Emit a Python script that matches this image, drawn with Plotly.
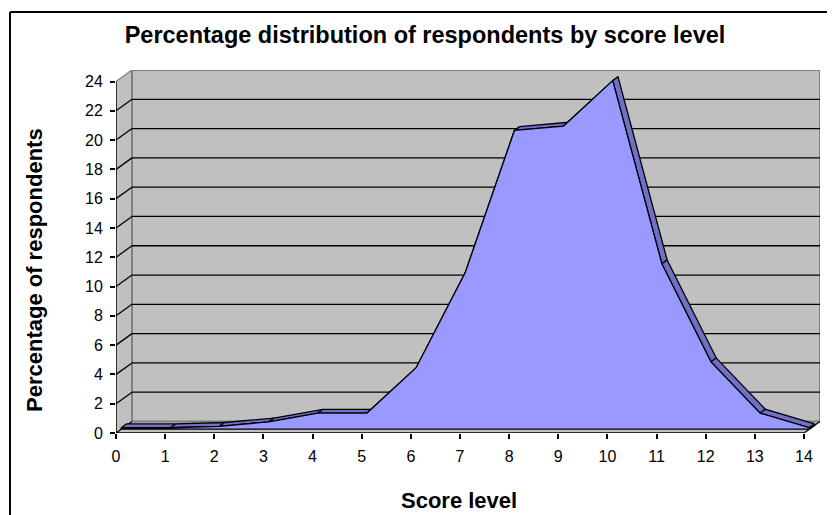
import plotly.graph_objects as go

# ---- data ----
score_levels = list(range(15))
percent_respondents = [0.1, 0.1, 0.2, 0.5, 1.1, 1.1, 4.2, 10.7, 20.4, 20.7, 23.8, 11.3, 4.6, 1.1, 0.1]
y_tick_values = list(range(0, 25, 2))
x_tick_values = list(range(0, 15))

title_text = "Percentage distribution of respondents by score level"
x_title = "Score level"
y_title = "Percentage of respondents"

# ---- geometry / style ----
PAGE_W, PAGE_H = 835, 515
OFF = 8  # default page body margin
W, H = PAGE_W - OFF, PAGE_H - OFF
ML, MR, MT, MB = 116 - OFF, 15, 70 - OFF, 82
PW, PH = W - ML - MR, H - MT - MB
DEPTH_PX_X, DEPTH_PX_Y = 16.0, 11.5
XMAX, YMAX = 14, 24
sx = (PW - DEPTH_PX_X) / XMAX
sy = (PH - DEPTH_PX_Y) / YMAX
DX = DEPTH_PX_X / sx
DY = DEPTH_PX_Y / sy
F1, F2 = 0.33, 0.66

WALL = "#C0C0C0"
WALL_EDGE = "#808080"
FRONT = "#9999FF"
TOP = "#7070C8"
FONT = "Arial, Liberation Sans, sans-serif"

def px(xp):
    """page pixel x -> paper x"""
    return (xp - OFF - ML) / PW

def py(yp):
    """page pixel y -> paper y"""
    return (H - MB - (yp - OFF)) / PH

fig = go.Figure()

shapes = []
# side wall
shapes.append(dict(type="path", xref="x", yref="y", layer="below",
                   path=f"M 0 0 L 0 {YMAX} L {DX} {YMAX+DY} L {DX} {DY} Z",
                   fillcolor=WALL, line=dict(width=0)))
# floor
shapes.append(dict(type="path", xref="x", yref="y", layer="below",
                   path=f"M 0 0 L {XMAX} 0 L {XMAX+DX} {DY} L {DX} {DY} Z",
                   fillcolor=WALL, line=dict(width=0)))
# back wall
shapes.append(dict(type="rect", xref="x", yref="y", layer="below",
                   x0=DX, x1=XMAX + DX, y0=DY, y1=YMAX + DY,
                   fillcolor=WALL, line=dict(color=WALL_EDGE, width=2)))
# gridlines on back wall + side wall diagonals
for v in y_tick_values:
    if 0 < v < YMAX:
        shapes.append(dict(type="line", xref="x", yref="y", layer="below",
                           x0=DX, x1=XMAX + DX, y0=v + DY, y1=v + DY,
                           line=dict(color="black", width=1.3)))
    shapes.append(dict(type="line", xref="x", yref="y", layer="below",
                       x0=0, x1=DX, y0=v, y1=v + DY,
                       line=dict(color="black" if v < YMAX else WALL_EDGE, width=1.3)))
# floor right diagonal
shapes.append(dict(type="line", xref="x", yref="y", layer="below",
                   x0=XMAX, x1=XMAX + DX, y0=0, y1=DY,
                   line=dict(color="black", width=1.3)))

# ribbon (top faces)
for i in range(len(score_levels) - 1):
    x0, x1 = score_levels[i], score_levels[i + 1]
    v0, v1 = percent_respondents[i], percent_respondents[i + 1]
    xs = [x0 + F1 * DX, x1 + F1 * DX, x1 + F2 * DX, x0 + F2 * DX, x0 + F1 * DX]
    ys = [v0 + F1 * DY, v1 + F1 * DY, v1 + F2 * DY, v0 + F2 * DY, v0 + F1 * DY]
    fig.add_trace(go.Scatter(x=xs, y=ys, mode="lines", fill="toself",
                             fillcolor=TOP, line=dict(color="black", width=1.3),
                             hoverinfo="skip", showlegend=False))
# right end face
xe, ve = score_levels[-1], percent_respondents[-1]
fig.add_trace(go.Scatter(
    x=[xe + F1 * DX, xe + F1 * DX, xe + F2 * DX, xe + F2 * DX, xe + F1 * DX],
    y=[F1 * DY, ve + F1 * DY, ve + F2 * DY, F2 * DY, F1 * DY],
    mode="lines", fill="toself", fillcolor=TOP,
    line=dict(color="black", width=1.3), hoverinfo="skip", showlegend=False))

# front face
fx = [s + F1 * DX for s in score_levels]
fy = [v + F1 * DY for v in percent_respondents]
fig.add_trace(go.Scatter(
    x=[fx[0]] + fx + [fx[-1], fx[0]],
    y=[F1 * DY] + fy + [F1 * DY, F1 * DY],
    mode="lines", fill="toself", fillcolor=FRONT,
    line=dict(color="black", width=1.3), hoverinfo="skip", showlegend=False))

# axis lines
shapes.append(dict(type="line", xref="x", yref="y", layer="above",
                   x0=0, x1=XMAX, y0=0, y1=0, line=dict(color="black", width=1.5)))
shapes.append(dict(type="line", xref="x", yref="y", layer="above",
                   x0=0, x1=0, y0=0, y1=YMAX, line=dict(color="black", width=1.5)))

# chart border (left and top visible)
shapes.append(dict(type="line", xref="paper", yref="paper", layer="above",
                   x0=px(10), x1=px(10), y0=py(12), y1=py(530),
                   line=dict(color="black", width=2)))
shapes.append(dict(type="line", xref="paper", yref="paper", layer="above",
                   x0=px(10), x1=px(850), y0=py(12), y1=py(12),
                   line=dict(color="black", width=2)))

annotations = [
    dict(text=f"<b>{x_title}</b>", xref="paper", yref="paper",
         x=px(459), y=py(500), showarrow=False,
         font=dict(family=FONT, size=22, color="black"),
         xanchor="center", yanchor="middle"),
    dict(text=f"<b>{y_title}</b>", xref="paper", yref="paper",
         x=px(34), y=py(270), showarrow=False, textangle=-90,
         font=dict(family=FONT, size=22, color="black"),
         xanchor="center", yanchor="middle"),
]

fig.update_layout(
    width=W, height=H, autosize=False,
    margin=dict(l=ML, r=MR, t=MT, b=MB, pad=0),
    paper_bgcolor="white", plot_bgcolor="white",
    title=dict(text=f"<b>{title_text}</b>", x=(425 - OFF) / W, xanchor="center",
               y=1 - (35 - OFF) / H, yanchor="middle",
               font=dict(family=FONT, size=23.5, color="black")),
    shapes=shapes, annotations=annotations,
    xaxis=dict(range=[0, XMAX + DX], tickvals=x_tick_values,
               ticktext=[str(v) for v in x_tick_values],
               showgrid=False, zeroline=False, showline=False,
               ticks="outside", ticklen=5, tickwidth=1.5, tickcolor="black",
               ticklabelstandoff=4,
               tickfont=dict(family=FONT, size=16, color="black")),
    yaxis=dict(range=[0, YMAX + DY], tickvals=y_tick_values,
               ticktext=[str(v) for v in y_tick_values],
               showgrid=False, zeroline=False, showline=False,
               ticks="outside", ticklen=5, tickwidth=1.5, tickcolor="black",
               ticklabelstandoff=4,
               tickfont=dict(family=FONT, size=16, color="black")),
    showlegend=False,
)

fig.write_html("out.html")
